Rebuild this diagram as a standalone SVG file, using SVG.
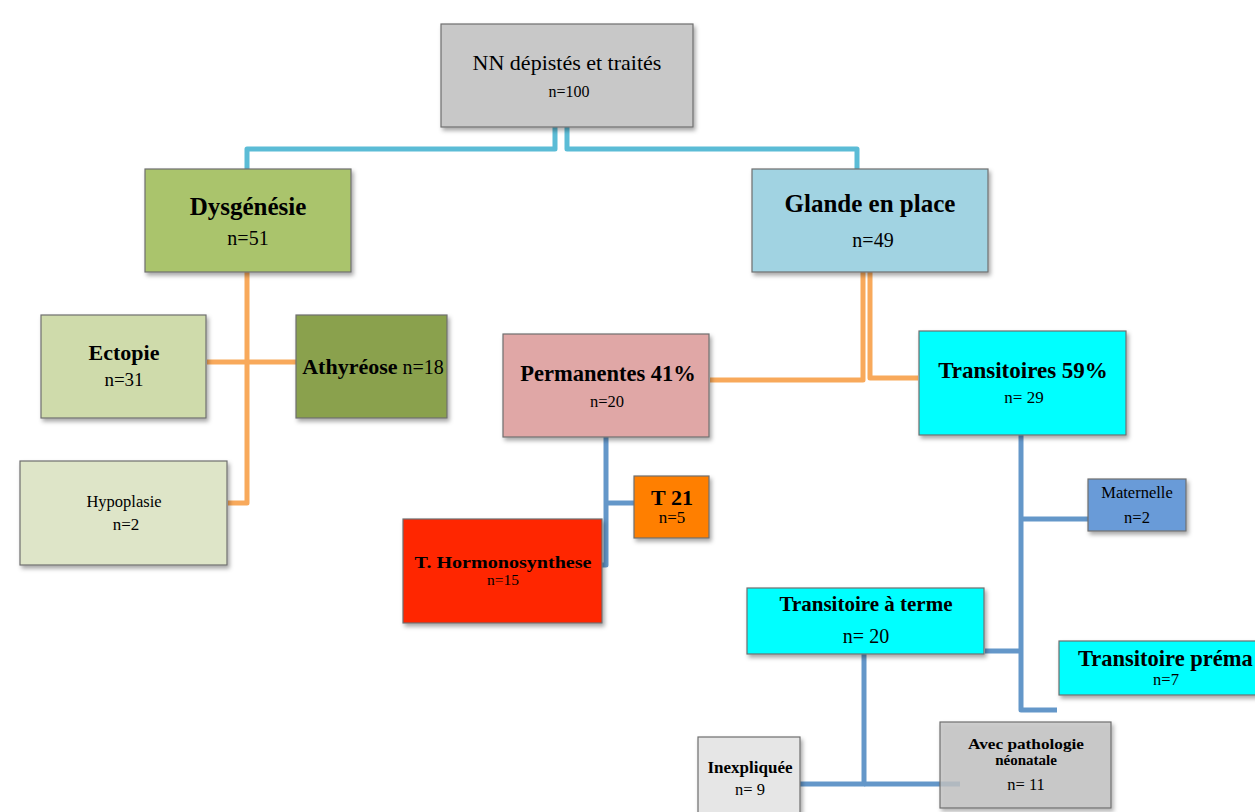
<svg xmlns="http://www.w3.org/2000/svg" width="1255" height="812" viewBox="0 0 1255 812">
<defs>
<filter id="sh" x="-10%" y="-10%" width="130%" height="140%">
<feDropShadow dx="2" dy="3" stdDeviation="2" flood-color="#000" flood-opacity="0.35"/>
</filter>
<style>
.box{stroke:#6f6f6f;stroke-width:1.2;filter:url(#sh)}
text{font-family:"Liberation Serif","Times New Roman",serif;fill:#000;text-anchor:middle}
.b{font-weight:bold}
.st{text-anchor:start}
.c1{fill:none;stroke:#5bbcd6;stroke-width:5;stroke-linejoin:round}
.c2{fill:none;stroke:#f8a95b;stroke-width:5;stroke-linejoin:round}
.c3{fill:none;stroke:#6497c9;stroke-width:5;stroke-linejoin:round}
</style>
</defs>
<rect width="1255" height="812" fill="#fff"/>
<g id="connectors">
<path class="c1" d="M555 127 V149 H247 V170"/>
<path class="c1" d="M567 127 V149 H857 V170"/>
<path class="c2" d="M247 272 V503 H228"/>
<path class="c2" d="M207 362 H296"/>
<path class="c2" d="M863 272 V380 H710"/>
<path class="c2" d="M870 272 V378 H918"/>
<path class="c3" d="M606 437 V565 H602"/>
<path class="c3" d="M606 503 H634"/>
<path class="c3" d="M1021 435 V710 H1057"/>
<path class="c3" d="M1021 519 H1088"/>
<path class="c3" d="M985 651 H1021"/>
<path class="c3" d="M864 654 V784 H800"/>
<path class="c3" d="M864 784 H960"/>
</g>
<g id="root"><rect class="box" x="441" y="24" width="252" height="103" fill="#c8c8c8"/>
<text x="567" y="70" font-size="22">NN dépistés et traités</text>
<text x="569" y="97" font-size="16">n=100</text></g>
<g id="dysgenesie"><rect class="box" x="145" y="169" width="206" height="103" fill="#aac46c"/>
<text class="b" x="248" y="215" font-size="25">Dysgénésie</text>
<text x="248" y="245" font-size="20">n=51</text></g>
<g id="glande"><rect class="box" x="752" y="169" width="236" height="103" fill="#a1d3e2"/>
<text class="b" x="870" y="212" font-size="25">Glande en place</text>
<text x="873" y="247" font-size="20">n=49</text></g>
<g id="ectopie"><rect class="box" x="41" y="315" width="165" height="103" fill="#cfdbab"/>
<text class="b" x="124" y="360" font-size="22">Ectopie</text>
<text x="124" y="386" font-size="19">n=31</text></g>
<g id="athyreose"><rect class="box" x="296" y="315" width="151" height="103" fill="#8aa14d"/>
<text x="373" y="374" font-size="20"><tspan class="b" font-size="22">Athyréose</tspan> n=18</text></g>
<g id="hypoplasie"><rect class="box" x="20" y="461" width="207" height="104" fill="#dee5c8"/>
<text x="124" y="507" font-size="16.5">Hypoplasie</text>
<text x="126" y="530" font-size="17">n=2</text></g>
<g id="permanentes"><rect class="box" x="503" y="334" width="206" height="103" fill="#e0a7a6"/>
<text class="b" x="608" y="381" font-size="22.5">Permanentes 41%</text>
<text x="607" y="407" font-size="16.5">n=20</text></g>
<g id="transitoires"><rect class="box" x="919" y="331" width="207" height="104" fill="#00ffff"/>
<text class="b" x="1023" y="378" font-size="23">Transitoires 59%</text>
<text x="1024" y="403" font-size="17">n= 29</text></g>
<g id="t21"><rect class="box" x="634" y="476" width="75" height="62" fill="#ff7f00"/>
<text class="b" x="672" y="505" font-size="22">T 21</text>
<text x="672" y="523" font-size="17">n=5</text></g>
<g id="hormono"><rect class="box" x="403" y="519" width="199" height="104" fill="#ff2500"/>
<text class="b" x="503" y="568" font-size="17" textLength="177" lengthAdjust="spacingAndGlyphs">T. Hormonosynthese</text>
<text x="503" y="585" font-size="15.5">n=15</text></g>
<g id="maternelle"><rect class="box" x="1088" y="479" width="98" height="52" fill="#699bd8"/>
<text x="1137" y="498" font-size="16.5">Maternelle</text>
<text x="1137" y="523" font-size="16.5">n=2</text></g>
<g id="terme"><rect class="box" x="747" y="588" width="237" height="66" fill="#00ffff"/>
<text class="b" x="866" y="611" font-size="21">Transitoire à terme</text>
<text x="866" y="643" font-size="20">n= 20</text></g>
<g id="prema"><rect class="box" x="1059" y="641" width="210" height="54" fill="#00ffff"/>
<text class="b st" x="1078" y="666" font-size="22.5">Transitoire préma</text>
<text x="1166" y="685" font-size="16.5">n=7</text></g>
<g id="inexpliquee"><rect class="box" x="698" y="737" width="102" height="85" fill="#e6e6e6"/>
<text class="b" x="750" y="773" font-size="17">Inexpliquée</text>
<text x="750" y="795" font-size="16.5">n= 9</text></g>
<g id="pathologie"><rect class="box" x="940" y="722" width="171" height="86" fill="#c4c4c4" fill-opacity="0.8"/>
<text class="b" x="1026" y="749" font-size="15" textLength="116" lengthAdjust="spacingAndGlyphs">Avec pathologie</text>
<text class="b" x="1026" y="765" font-size="15">néonatale</text>
<text x="1026" y="790" font-size="16.5">n= 11</text></g>
</svg>
